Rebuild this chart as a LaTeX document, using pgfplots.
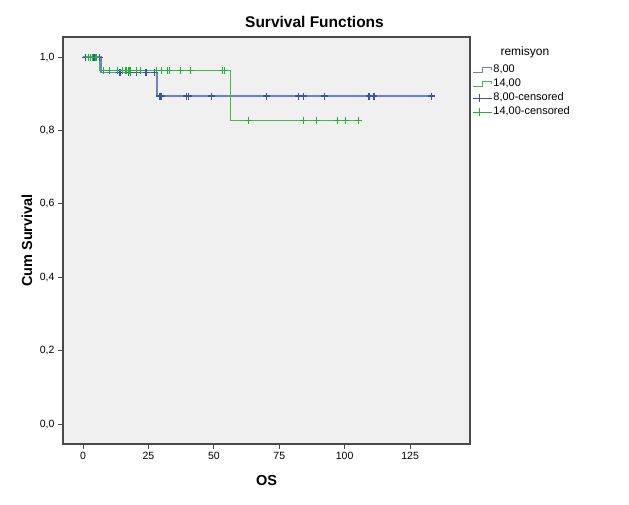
\documentclass[border=0pt]{standalone}
\usepackage{pgfplots}
\pgfplotsset{compat=1.18}
\usepackage{fontspec}
\setmainfont{Liberation Sans}
\definecolor{bgc}{HTML}{F0F0F0}
\definecolor{axc}{HTML}{4A4A4A}
\definecolor{bline}{HTML}{6F82C8}
\definecolor{bmark}{HTML}{3B50A8}
\definecolor{gline}{HTML}{3DBE4A}
\definecolor{gmark}{HTML}{22B036}
\begin{document}
\begin{tikzpicture}
\begin{axis}[
  at={(0,0)}, anchor=south west,
  scale only axis, width=407pt, height=407pt,
  xmin=-7.65, xmax=147.9, ymin=-0.0545, ymax=1.055,
  axis background/.style={fill=bgc},
  axis line style={axc, line width=1.5pt},
  xtick={0,25,50,75,100,125},
  ytick={0,0.2,0.4,0.6,0.8,1},
  yticklabel style={/pgf/number format/.cd, fixed, fixed zerofill, precision=1, use comma},
  /pgf/number format/assume math mode=true,
  tick align=outside, major tick length=5pt,
  tick style={axc, line width=1pt},
  xtick pos=bottom, ytick pos=left,
  ticklabel style={font=\fontsize{10.5}{12}\selectfont},
  legend style={draw=none, fill=none, at={(1,0.936)}, anchor=north west, xshift=2pt,
    inner sep=0pt, font=\fontsize{11}{13}\selectfont,
    nodes={inner xsep=1pt, inner ysep=1.75pt, text height=8pt, text depth=2.5pt},
    row sep=0pt},
  legend cell align=left,
]
% 8,00 step
\addplot[const plot, bline, line width=1.4pt,
  legend image code/.code={\draw[bline, line width=1.2pt] (0pt,-2.5pt) -- (10pt,-2.5pt) -- (10pt,2.5pt) -- (19pt,2.5pt) -- (19pt,0.5pt);}]
  coordinates {(0,1) (6.8,0.958) (28.2,0.894) (133.3,0.894)};
\addlegendentry{8,00}
% 14,00 step
\addplot[const plot, gline, line width=1.4pt,
  legend image code/.code={\draw[gline, line width=1.2pt] (0pt,-2.5pt) -- (10pt,-2.5pt) -- (10pt,2.5pt) -- (19pt,2.5pt) -- (19pt,0.5pt);}]
  coordinates {(0,1) (6.2,0.964) (56.3,0.827) (105.2,0.827)};
\addlegendentry{14,00}
% 8,00 censored
\addplot[only marks, mark=+, mark size=3.5pt, color=bmark, mark options={line width=1.2pt, draw=bmark},
  legend image code/.code={\draw[draw=bmark, line width=1.1pt] (0pt,0pt) -- (19pt,0pt); \draw[draw=bmark, line width=1.1pt] (7pt,-4pt) -- (7pt,4pt);}]
  coordinates {
  (1.1,1) (3.9,1) (4.6,1) (6.2,1)
  (14.1,0.958) (17.3,0.958) (18.0,0.958) (20.3,0.958) (24.1,0.958) (27.3,0.958)
  (29.4,0.894) (29.7,0.894) (30.1,0.894) (39.6,0.894) (40.3,0.894) (49.2,0.894)
  (70.2,0.894) (82.3,0.894) (84.2,0.894) (92.2,0.894) (109.3,0.894) (111.2,0.894) (133.3,0.894)
  };
\addlegendentry{8,00-censored}
% 14,00 censored
\addplot[only marks, mark=+, mark size=3.5pt, color=gmark, mark options={line width=1.2pt, draw=gmark},
  legend image code/.code={\draw[draw=gmark, line width=1.1pt] (0pt,0pt) -- (19pt,0pt); \draw[draw=gmark, line width=1.1pt] (7pt,-4pt) -- (7pt,4pt);}]
  coordinates {
  (2.2,1) (2.9,1) (3.7,1) (5.0,1)
  (7.8,0.964) (10.1,0.964) (13.1,0.964) (15.2,0.964) (16.1,0.964) (16.7,0.964)
  (17.6,0.964) (18.2,0.964) (20.3,0.964) (22.1,0.964) (28.2,0.964) (30.1,0.964)
  (32.2,0.964) (33.0,0.964) (37.3,0.964) (41.2,0.964) (53.2,0.964) (54.0,0.964)
  (63.2,0.827) (84.2,0.827) (89.3,0.827) (97.2,0.827) (100.4,0.827) (105.2,0.827)
  };
\addlegendentry{14,00-censored}
\end{axis}
\node[font=\bfseries\fontsize{15.5}{18}\selectfont] at (251.5pt,422pt) {Survival Functions};
\node[font=\bfseries\fontsize{14.5}{17}\selectfont] at (203.5pt,-37pt) {OS};
\node[font=\bfseries\fontsize{14.5}{17}\selectfont, rotate=90] at (-36pt,203.5pt) {Cum Survival};
\node[font=\fontsize{12}{14}\selectfont, anchor=base west] at (434pt,388pt) {remisyon};
\pgfresetboundingbox
\path (-63pt,-60pt) rectangle (566pt,444pt);
\end{tikzpicture}
\end{document}
